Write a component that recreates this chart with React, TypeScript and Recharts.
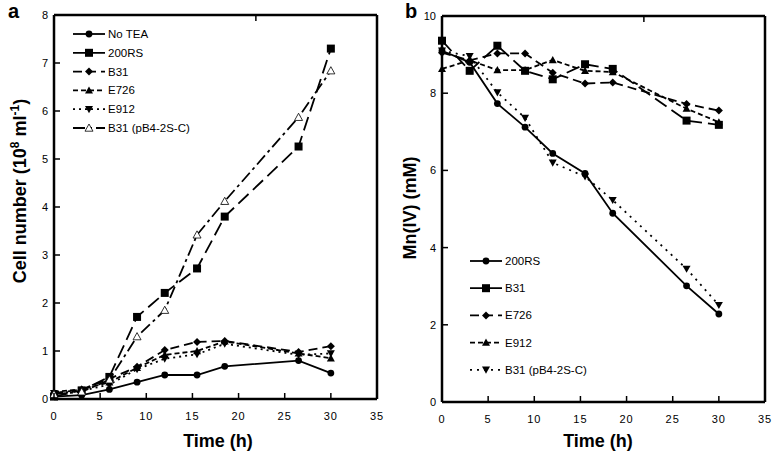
import { LineChart, Line, XAxis, YAxis, Legend, Label } from "recharts";

const font = "'Liberation Sans', Arial, sans-serif";

const times = [0, 3, 6, 9, 12, 15.5, 18.5, 26.5, 30];

// panel a: cell number (10^8 ml^-1)
const noTeaA = [0.05, 0.08, 0.2, 0.35, 0.5, 0.5, 0.68, 0.8, 0.54];
const rs200A = [0.05, 0.18, 0.46, 1.71, 2.21, 2.72, 3.8, 5.26, 7.3];
const b31A = [0.12, 0.2, 0.42, 0.67, 1.02, 1.19, 1.21, 0.98, 1.1];
const e726A = [0.15, 0.2, 0.35, 0.65, 0.92, 1.0, 1.2, 0.95, 0.85];
const e912A = [0.12, 0.17, 0.3, 0.62, 0.84, 0.93, 1.15, 0.92, 0.95];
const b31cA = [0.1, 0.15, 0.4, 1.3, 1.85, 3.42, 4.12, 5.87, 6.84];

// panel b: Mn(IV) (mM)
const rs200B = [9.1, 8.8, 7.73, 7.12, 6.44, 5.92, 4.89, 3.01, 2.28];
const b31B = [9.36, 8.58, 9.23, 8.58, 8.36, 8.75, 8.63, 7.29, 7.18];
const e726B = [9.05, 8.85, 9.03, 9.03, 8.53, 8.25, 8.28, 7.72, 7.55];
const e912B = [8.63, 8.85, 8.6, 8.6, 8.86, 8.58, 8.55, 7.6, 7.25];
const b31cB = [9.1, 8.96, 8.02, 7.36, 6.2, 5.84, 5.23, 3.45, 2.51];

const timeTicks = [0, 5, 10, 15, 20, 25, 30, 35];
const cellTicks = [0, 1, 2, 3, 4, 5, 6, 7, 8];
const mnTicks = [0, 2, 4, 6, 8, 10];

type Shape = "circle" | "square" | "diamond" | "up" | "down" | "openUp";
type Series = { key: string; name: string; dash?: string; shape: Shape };

const seriesA: Series[] = [
  { key: "noTea", name: "No TEA", shape: "circle" },
  { key: "rs200", name: "200RS", dash: "14 6", shape: "square" },
  { key: "b31", name: "B31", dash: "9 5", shape: "diamond" },
  { key: "e726", name: "E726", dash: "5 3", shape: "up" },
  { key: "e912", name: "E912", dash: "2 4", shape: "down" },
  { key: "b31c", name: "B31  (pB4-2S-C)", dash: "12 4 3 4", shape: "openUp" },
];

const seriesB: Series[] = [
  { key: "rs200", name: "200RS", shape: "circle" },
  { key: "b31", name: "B31", dash: "14 6", shape: "square" },
  { key: "e726", name: "E726", dash: "9 5", shape: "diamond" },
  { key: "e912", name: "E912", dash: "5 3", shape: "up" },
  { key: "b31c", name: "B31  (pB4-2S-C)", dash: "2 5", shape: "down" },
];

const dataA = times.map((t, i) => ({
  t,
  noTea: noTeaA[i],
  rs200: rs200A[i],
  b31: b31A[i],
  e726: e726A[i],
  e912: e912A[i],
  b31c: b31cA[i],
}));

const dataB = times.map((t, i) => ({
  t,
  rs200: rs200B[i],
  b31: b31B[i],
  e726: e726B[i],
  e912: e912B[i],
  b31c: b31cB[i],
}));

function Marker({ shape, cx, cy, s }: { shape: Shape; cx: number; cy: number; s: number }) {
  if (cx == null || cy == null) return null;
  if (shape === "circle") return <circle cx={cx} cy={cy} r={s * 0.85} fill="#000" />;
  if (shape === "square")
    return <rect x={cx - s} y={cy - s} width={2 * s} height={2 * s} fill="#000" />;
  if (shape === "diamond")
    return (
      <polygon
        points={`${cx},${cy - s} ${cx + s},${cy} ${cx},${cy + s} ${cx - s},${cy}`}
        fill="#000"
      />
    );
  if (shape === "down")
    return (
      <polygon
        points={`${cx - s},${cy - s * 0.8} ${cx + s},${cy - s * 0.8} ${cx},${cy + s}`}
        fill="#000"
      />
    );
  const open = shape === "openUp";
  return (
    <polygon
      points={`${cx},${cy - s} ${cx + s},${cy + s * 0.8} ${cx - s},${cy + s * 0.8}`}
      fill={open ? "#fff" : "#000"}
      stroke="#000"
      strokeWidth={open ? 0.8 : 0}
    />
  );
}

const tickBottom = (p: any) => (
  <g>
    <line x1={p.x} y1={p.y} x2={p.x} y2={p.y - 6} stroke="#000" strokeWidth={1.5} />
    <text x={p.x} y={p.y + 21} textAnchor="middle" fontSize={11} letterSpacing={1} fontFamily={font}>
      {p.payload.value}
    </text>
  </g>
);
const tickTop = (p: any) => (
  <line x1={p.x} y1={p.y} x2={p.x} y2={p.y + 6} stroke="#000" strokeWidth={1.5} />
);
const tickLeft = (p: any) => (
  <g>
    <line x1={p.x} y1={p.y} x2={p.x + 6} y2={p.y} stroke="#000" strokeWidth={1.5} />
    <text x={p.x - 6} y={p.y + 4} textAnchor="end" fontSize={11} fontFamily={font}>
      {p.payload.value}
    </text>
  </g>
);
const tickRight = (p: any) => (
  <line x1={p.x} y1={p.y} x2={p.x - 6} y2={p.y} stroke="#000" strokeWidth={1.5} />
);

function LegendBox({ items, rowGap, size }: { items: Series[]; rowGap: number; size: number }) {
  return (
    <svg width={220} height={items.length * rowGap + 10} style={{ display: "block" }}>
      {items.map((s, i) => {
        const y = 10 + i * rowGap;
        return (
          <g key={s.key}>
            <line x1={3} y1={y} x2={35} y2={y} stroke="#000" strokeWidth={1.8} strokeDasharray={s.dash} />
            <Marker shape={s.shape} cx={19} cy={y} s={size} />
            <text x={38} y={y + 4} fontSize={11.5} fontFamily={font}>
              {s.name}
            </text>
          </g>
        );
      })}
    </svg>
  );
}

function renderLines(items: Series[], size: number) {
  return items.map((s) => (
    <Line
      key={s.key}
      dataKey={s.key}
      name={s.name}
      stroke="#000"
      strokeWidth={1.8}
      strokeDasharray={s.dash}
      isAnimationActive={false}
      dot={(p: any) => <Marker key={`${s.key}-${p.index}`} shape={s.shape} cx={p.cx} cy={p.cy} s={size} />}
      activeDot={false}
    />
  ));
}

const axisLine = { stroke: "#000", strokeWidth: 2.5 };
const panelLetter = {
  position: "absolute" as const,
  top: 0,
  fontSize: 20,
  lineHeight: "normal",
  fontWeight: "bold" as const,
};

export default function App() {
  return (
    <div style={{ position: "absolute", left: 0, top: 0, width: 774, height: 453, background: "#fff", fontFamily: font }}>
      <div style={{ ...panelLetter, left: 8 }}>a</div>
      <div style={{ ...panelLetter, left: 405 }}>b</div>

      <div style={{ position: "absolute", left: 0, top: 0 }}>
        <LineChart width={390} height={453} data={dataA} margin={{ top: 14, right: 12, bottom: 0, left: 0 }}>
          <XAxis
            dataKey="t"
            type="number"
            domain={[0, 35]}
            ticks={timeTicks}
            interval={0}
            height={54}
            tickSize={0}
            tickMargin={0}
            tickLine={false}
            axisLine={axisLine}
            tick={tickBottom}
          >
            <Label
              content={() => (
                <text x={218} y={447} textAnchor="middle" fontSize={18} fontWeight="bold" fontFamily={font}>
                  Time (h)
                </text>
              )}
            />
          </XAxis>
          <XAxis
            xAxisId="top"
            orientation="top"
            type="number"
            domain={[0, 35]}
            ticks={timeTicks}
            interval={0}
            height={1}
            tickSize={0}
            tickMargin={0}
            tickLine={false}
            axisLine={axisLine}
            tick={tickTop}
          />
          <YAxis
            type="number"
            domain={[0, 8]}
            ticks={cellTicks}
            interval={0}
            width={54}
            tickSize={0}
            tickMargin={0}
            tickLine={false}
            axisLine={axisLine}
            tick={tickLeft}
          >
            <Label
              content={() => (
                <text
                  x={20}
                  y={191}
                  transform="rotate(-90, 20, 191)"
                  dy={6}
                  textAnchor="middle"
                  fontSize={18}
                  fontWeight="bold"
                  fontFamily={font}
                >
                  Cell number (10
                  <tspan dy={-7} fontSize={12}>8</tspan>
                  <tspan dy={7}> ml</tspan>
                  <tspan dy={-7} fontSize={12}>-1</tspan>
                  <tspan dy={7}>)</tspan>
                </text>
              )}
            />
          </YAxis>
          <YAxis
            yAxisId="right"
            orientation="right"
            type="number"
            domain={[0, 8]}
            ticks={cellTicks}
            interval={0}
            width={1}
            tickSize={0}
            tickMargin={0}
            tickLine={false}
            axisLine={axisLine}
            tick={tickRight}
          />
          <Legend
            layout="vertical"
            align="center"
            verticalAlign="middle"
            wrapperStyle={{ left: 70, top: 24, width: 220 }}
            content={() => <LegendBox items={seriesA} rowGap={18.8} size={4} />}
          />
          {renderLines(seriesA, 4)}
        </LineChart>
      </div>

      <div style={{ position: "absolute", left: 390, top: 0 }}>
        <LineChart width={384} height={453} data={dataB} margin={{ top: 15, right: 8, bottom: 0, left: 0 }}>
          <XAxis
            dataKey="t"
            type="number"
            domain={[0, 35]}
            ticks={timeTicks}
            interval={0}
            height={51}
            tickSize={0}
            tickMargin={0}
            tickLine={false}
            axisLine={axisLine}
            tick={tickBottom}
          >
            <Label
              content={() => (
                <text x={208} y={447} textAnchor="middle" fontSize={18} fontWeight="bold" fontFamily={font}>
                  Time (h)
                </text>
              )}
            />
          </XAxis>
          <XAxis
            xAxisId="top"
            orientation="top"
            type="number"
            domain={[0, 35]}
            ticks={timeTicks}
            interval={0}
            height={1}
            tickSize={0}
            tickMargin={0}
            tickLine={false}
            axisLine={axisLine}
            tick={tickTop}
          />
          <YAxis
            type="number"
            domain={[0, 10]}
            ticks={mnTicks}
            interval={0}
            width={52}
            tickSize={0}
            tickMargin={0}
            tickLine={false}
            axisLine={axisLine}
            tick={tickLeft}
          >
            <Label
              content={() => (
                <text
                  x={20}
                  y={208}
                  transform="rotate(-90, 20, 208)"
                  dy={6}
                  textAnchor="middle"
                  fontSize={18}
                  fontWeight="bold"
                  fontFamily={font}
                >
                  Mn(IV) (mM)
                </text>
              )}
            />
          </YAxis>
          <YAxis
            yAxisId="right"
            orientation="right"
            type="number"
            domain={[0, 10]}
            ticks={mnTicks}
            interval={0}
            width={1}
            tickSize={0}
            tickMargin={0}
            tickLine={false}
            axisLine={axisLine}
            tick={tickRight}
          />
          <Legend
            layout="vertical"
            align="center"
            verticalAlign="middle"
            wrapperStyle={{ left: 77, top: 251, width: 220 }}
            content={() => <LegendBox items={seriesB} rowGap={27.2} size={4} />}
          />
          {renderLines(seriesB, 4)}
        </LineChart>
      </div>
    </div>
  );
}
